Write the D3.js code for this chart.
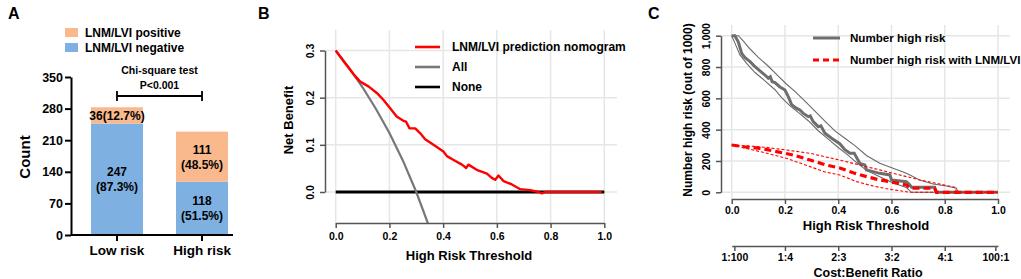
<!DOCTYPE html>
<html>
<head>
<meta charset="utf-8">
<script src="https://cdn.jsdelivr.net/npm/d3@7"></script>
<style>
  body { margin: 0; background: #fff; }
  svg { display: block; font-family: "Liberation Sans", Arial, sans-serif; font-weight: bold; }
</style>
</head>
<body>
<div id="chart"></div>
<script>
// ---- panel A data
const categories = ["Low risk", "High risk"];
const negative = [247, 118];
const positive = [36, 111];
const negPct = ["87.3%", "51.5%"];
const posPct = ["12.7%", "48.5%"];
const countTicks = [0, 70, 140, 210, 280, 350];

// ---- panel B data (threshold, net benefit)
const nomogramNB = [
  [0, 0.3], [0.035, 0.273], [0.066, 0.25], [0.091, 0.234], [0.122, 0.224], [0.153, 0.21],
  [0.178, 0.195], [0.202, 0.178], [0.227, 0.16], [0.252, 0.151], [0.262, 0.149], [0.275, 0.135],
  [0.296, 0.135], [0.314, 0.125], [0.333, 0.112], [0.364, 0.1], [0.401, 0.086], [0.414, 0.076],
  [0.439, 0.068], [0.47, 0.058], [0.486, 0.051], [0.494, 0.058], [0.525, 0.047], [0.563, 0.039],
  [0.581, 0.03], [0.594, 0.026], [0.606, 0.035], [0.625, 0.023], [0.656, 0.016], [0.687, 0.006],
  [0.724, 0.004], [0.755, 0.0], [0.768, -0.003], [0.78, 0.0], [0.99, 0.0]
];
const allNB = [
  [0, 0.3], [0.05, 0.263], [0.1, 0.222], [0.15, 0.176], [0.2, 0.125], [0.25, 0.067],
  [0.3, 0.0], [0.345, -0.069]
];
const noneNB = [[0, 0], [1, 0]];
const nbTicks = [0, 0.1, 0.2, 0.3];
const thrTicks = [0, 0.2, 0.4, 0.6, 0.8, 1.0];

// ---- panel C data (threshold, number high risk out of 1000)
const highRisk = [
  [0, 1000], [0.012, 1000], [0.025, 960], [0.0375, 887], [0.05, 860], [0.069, 834], [0.0875, 802],
  [0.106, 775], [0.125, 749], [0.1375, 728], [0.145, 738], [0.152, 706], [0.1625, 700], [0.18, 674],
  [0.2, 653], [0.2125, 611], [0.225, 560], [0.244, 536], [0.256, 526], [0.269, 504], [0.2875, 483],
  [0.295, 488], [0.306, 451], [0.325, 419], [0.335, 425], [0.35, 377], [0.375, 345], [0.406, 310],
  [0.425, 272], [0.444, 250], [0.46, 250], [0.481, 185], [0.5, 174], [0.506, 143], [0.531, 132],
  [0.556, 121], [0.594, 111], [0.6, 79], [0.656, 68], [0.669, 47], [0.675, 32], [0.762, 32],
  [0.769, 0], [1.0, 0]
];
const highRiskUpper = [
  [0, 1000], [0.025, 1000], [0.044, 965], [0.069, 915], [0.1, 862], [0.1375, 805], [0.175, 742],
  [0.206, 690], [0.2375, 645], [0.275, 582], [0.3125, 518], [0.35, 455], [0.3875, 392], [0.425, 345],
  [0.4625, 298], [0.506, 235], [0.556, 185], [0.606, 153], [0.656, 121], [0.706, 79],
  [0.756, 53], [0.806, 40], [0.844, 26], [0.85, 0], [1.0, 0]
];
const highRiskLower = [
  [0, 1000], [0.0125, 951], [0.031, 877], [0.056, 823], [0.0875, 765], [0.125, 712], [0.1625, 655],
  [0.1875, 605], [0.219, 552], [0.25, 510], [0.2875, 457], [0.325, 393], [0.3625, 340], [0.4, 286],
  [0.4375, 236], [0.469, 190], [0.506, 140], [0.556, 100], [0.606, 60], [0.656, 30], [0.675, 0],
  [1.0, 0]
];
const eventRisk = [
  [0, 302], [0.044, 291], [0.106, 281], [0.169, 260], [0.231, 238], [0.294, 206], [0.356, 174],
  [0.406, 155], [0.456, 125], [0.506, 100], [0.556, 79], [0.594, 68], [0.656, 47], [0.669, 26],
  [0.762, 26], [0.769, 0], [1.0, 0]
];
const eventRiskUpper = [
  [0, 302], [0.106, 291], [0.206, 270], [0.294, 249], [0.381, 215], [0.406, 206], [0.481, 174],
  [0.556, 143], [0.631, 111], [0.706, 79], [0.781, 53], [0.838, 32], [0.844, 0], [1.0, 0]
];
const eventRiskLower = [
  [0, 302], [0.106, 260], [0.206, 217], [0.294, 164], [0.35, 130], [0.406, 111], [0.469, 68],
  [0.531, 40], [0.594, 19], [0.656, 4], [0.669, 0], [1.0, 0]
];
const nTicks = [0, 200, 400, 600, 800, 1000];
const ratioTicks = [0.01, 0.2, 0.4, 0.6, 0.8, 0.99];
const ratioLabels = ["1:100", "1:4", "2:3", "3:2", "4:1", "100:1"];

const width = 1021;
const height = 279;

const svg = d3.select("#chart")
    .append("svg")
    .attr("width", width)
    .attr("height", height);

svg.append("rect").attr("width", width).attr("height", height).attr("fill", "#fff");

const orange = "#f9b98c";
const blue = "#7eb0e2";
const axisGrey = "#555";
const gridGrey = "#e6e6e6";
const fontFam = "Liberation Sans, Arial, sans-serif";

// panel letters
[["A", 8], ["B", 258], ["C", 648]].forEach(([t, x]) => {
    svg.append("text").attr("x", x).attr("y", 19).attr("font-size", 16).text(t);
});

function styleAxis(ax, colour, size) {
    ax.select(".domain").attr("stroke", colour).attr("stroke-width", size === 12.5 ? 2 : 1.5);
    ax.selectAll(".tick line").attr("stroke", colour).attr("stroke-width", size === 12.5 ? 2 : 1.5);
    ax.selectAll(".tick text").attr("font-size", size).attr("font-family", fontFam)
        .attr("font-weight", "bold").attr("fill", "#000");
}

// ================= Panel A =================
const gA = svg.append("g");
const yA = d3.scaleLinear().domain([0, 350]).range([235, 77]);
const xA = d3.scaleBand().domain(categories).range([71, 248])
    .paddingInner(0.388).paddingOuter(0.235);

// legend
[[orange, "LNM/LVI positive", 28], [blue, "LNM/LVI negative", 43]].forEach(([c, t, y]) => {
    gA.append("rect").attr("x", 65).attr("y", y).attr("width", 13).attr("height", 9).attr("fill", c);
    gA.append("text").attr("x", 85).attr("y", y + 8.5).attr("font-size", 12).text(t);
});

// bars
gA.selectAll(".neg").data(categories).enter().append("rect")
    .attr("x", d => xA(d)).attr("width", xA.bandwidth())
    .attr("y", (d, i) => yA(negative[i]))
    .attr("height", (d, i) => yA(0) - yA(negative[i]))
    .attr("fill", blue);
gA.selectAll(".pos").data(categories).enter().append("rect")
    .attr("x", d => xA(d)).attr("width", xA.bandwidth())
    .attr("y", (d, i) => yA(negative[i] + positive[i]))
    .attr("height", (d, i) => yA(negative[i]) - yA(negative[i] + positive[i]))
    .attr("fill", orange);

// bar labels
categories.forEach((c, i) => {
    const cx = xA(c) + xA.bandwidth() / 2;
    const negMid = yA(negative[i] / 2);
    gA.append("text").attr("x", cx).attr("y", negMid - 3).attr("text-anchor", "middle")
        .attr("font-size", 12).text(negative[i]);
    gA.append("text").attr("x", cx).attr("y", negMid + 12).attr("text-anchor", "middle")
        .attr("font-size", 12).text(`(${negPct[i]})`);
    const posMid = yA(negative[i] + positive[i] / 2);
    if (positive[i] < 60) {
        gA.append("text").attr("x", cx).attr("y", posMid + 4.5).attr("text-anchor", "middle")
            .attr("font-size", 12).text(`${positive[i]}(${posPct[i]})`);
    } else {
        gA.append("text").attr("x", cx).attr("y", posMid - 3).attr("text-anchor", "middle")
            .attr("font-size", 12).text(positive[i]);
        gA.append("text").attr("x", cx).attr("y", posMid + 12).attr("text-anchor", "middle")
            .attr("font-size", 12).text(`(${posPct[i]})`);
    }
});

// axes
const axA = gA.append("g").attr("transform", "translate(71,0)")
    .call(d3.axisLeft(yA).tickValues(countTicks).tickSize(6).tickSizeOuter(0));
styleAxis(axA, "#000", 12.5);
axA.selectAll(".tick text").attr("x", -8);

const axAx = gA.append("g").attr("transform", "translate(0,235)")
    .call(d3.axisBottom(xA).tickSize(6).tickSizeOuter(0));
styleAxis(axAx, "#000", 12.5);
axAx.select(".domain").attr("d", "M71,0H233");
axAx.selectAll(".tick text").attr("font-size", 13.5).attr("y", 10);

gA.append("text").attr("transform", "translate(30,157) rotate(-90)")
    .attr("text-anchor", "middle").attr("font-size", 15).text("Count");

// chi-square bracket
const x0 = xA(categories[0]) + xA.bandwidth() / 2;
const x1 = xA(categories[1]) + xA.bandwidth() / 2;
gA.append("path").attr("d", `M${x0},91V101M${x0},96H${x1}M${x1},91V101`)
    .attr("stroke", "#000").attr("stroke-width", 1.8).attr("fill", "none");
gA.append("text").attr("x", (x0 + x1) / 2).attr("y", 74).attr("text-anchor", "middle")
    .attr("font-size", 10.5).text("Chi-square test");
gA.append("text").attr("x", (x0 + x1) / 2).attr("y", 89).attr("text-anchor", "middle")
    .attr("font-size", 10.5).text("P<0.001");

// ================= Panel B =================
const gB = svg.append("g");
const xB = d3.scaleLinear().domain([0, 1]).range([335.7, 604.3]);
const yB = d3.scaleLinear().domain([0, 0.3]).range([192, 50.5]);
const plotB = { left: 325, right: 617, top: 30, bottom: 223 };

gB.append("clipPath").attr("id", "clipB").append("rect")
    .attr("x", plotB.left).attr("y", plotB.top)
    .attr("width", plotB.right - plotB.left).attr("height", plotB.bottom - plotB.top);

gB.selectAll(".vg").data(thrTicks).enter().append("line")
    .attr("x1", d => xB(d)).attr("x2", d => xB(d)).attr("y1", plotB.top).attr("y2", plotB.bottom)
    .attr("stroke", gridGrey).attr("stroke-width", 1.5);
gB.selectAll(".hg").data(nbTicks).enter().append("line")
    .attr("x1", plotB.left).attr("x2", plotB.right).attr("y1", d => yB(d)).attr("y2", d => yB(d))
    .attr("stroke", gridGrey).attr("stroke-width", 1.5);

const lineB = d3.line().x(d => xB(d[0])).y(d => yB(d[1]));
const curvesB = gB.append("g").attr("clip-path", "url(#clipB)");
curvesB.append("path").datum(noneNB).attr("d", lineB).attr("fill", "none")
    .attr("stroke", "#000").attr("stroke-width", 2.8);
curvesB.append("path").datum(allNB).attr("d", lineB).attr("fill", "none")
    .attr("stroke", "#777").attr("stroke-width", 2.2);
curvesB.append("path").datum(nomogramNB).attr("d", lineB).attr("fill", "none")
    .attr("stroke", "#f00").attr("stroke-width", 2.4).attr("stroke-linejoin", "round");

// B axes
const axBy = gB.append("g").attr("transform", `translate(${plotB.left},0)`)
    .call(d3.axisLeft(yB).tickValues(nbTicks).tickFormat(d3.format(".1f")).tickSize(5).tickSizeOuter(0));
styleAxis(axBy, axisGrey, 10.5);
axBy.selectAll(".tick text")
    .attr("x", null).attr("dy", null).attr("text-anchor", "middle")
    .attr("transform", "translate(-11,0) rotate(-90)");

const axBx = gB.append("g").attr("transform", `translate(0,${plotB.bottom})`)
    .call(d3.axisBottom(xB).tickValues(thrTicks).tickFormat(d3.format(".1f")).tickSize(5).tickSizeOuter(0));
styleAxis(axBx, axisGrey, 10.5);
axBx.selectAll(".tick text").attr("y", 10);

gB.append("text").attr("x", 469).attr("y", 260).attr("text-anchor", "middle")
    .attr("font-size", 13).text("High Risk Threshold");
gB.append("text").attr("transform", "translate(293,120) rotate(-90)")
    .attr("text-anchor", "middle").attr("font-size", 13).text("Net Benefit");

// B legend
[["#f00", "LNM/LVI prediction nomogram", 47], ["#777", "All", 67], ["#000", "None", 87]].forEach(([c, t, y]) => {
    gB.append("line").attr("x1", 415).attr("x2", 440).attr("y1", y).attr("y2", y)
        .attr("stroke", c).attr("stroke-width", 2.6);
    gB.append("text").attr("x", 452).attr("y", y + 4).attr("font-size", 12).text(t);
});

// ================= Panel C =================
const gC = svg.append("g");
const xC = d3.scaleLinear().domain([0, 1]).range([731.7, 998]);
const yC = d3.scaleLinear().domain([0, 1000]).range([192.3, 35.7]);
const plotC = { left: 721, right: 1010, top: 25, bottom: 199 };

gC.selectAll(".vg").data(thrTicks).enter().append("line")
    .attr("x1", d => xC(d)).attr("x2", d => xC(d)).attr("y1", plotC.top).attr("y2", plotC.bottom)
    .attr("stroke", gridGrey).attr("stroke-width", 1.5);
gC.selectAll(".hg").data(nTicks).enter().append("line")
    .attr("x1", plotC.left).attr("x2", plotC.right).attr("y1", d => yC(d)).attr("y2", d => yC(d))
    .attr("stroke", gridGrey).attr("stroke-width", 1.5);

const lineC = d3.line().x(d => xC(d[0])).y(d => yC(d[1]));
[highRiskUpper, highRiskLower].forEach(s => {
    gC.append("path").datum(s).attr("d", lineC).attr("fill", "none")
        .attr("stroke", "#6a6a6a").attr("stroke-width", 1.1);
});
gC.append("path").datum(highRisk).attr("d", lineC).attr("fill", "none")
    .attr("stroke", "#6e6e6e").attr("stroke-width", 3);
[eventRiskUpper, eventRiskLower].forEach(s => {
    gC.append("path").datum(s).attr("d", lineC).attr("fill", "none")
        .attr("stroke", "#f00").attr("stroke-width", 1.1).attr("stroke-dasharray", "3,2");
});
gC.append("path").datum(eventRisk).attr("d", lineC).attr("fill", "none")
    .attr("stroke", "#f00").attr("stroke-width", 3.2).attr("stroke-dasharray", "7,4");

// C axes
const axCy = gC.append("g").attr("transform", `translate(${plotC.left},0)`)
    .call(d3.axisLeft(yC).tickValues(nTicks).tickSize(5).tickSizeOuter(0));
styleAxis(axCy, axisGrey, 10.5);
axCy.selectAll(".tick text")
    .attr("x", null).attr("dy", null).attr("text-anchor", "middle")
    .attr("transform", "translate(-11,0) rotate(-90)");

const axCx = gC.append("g").attr("transform", `translate(0,${plotC.bottom})`)
    .call(d3.axisBottom(xC).tickValues(thrTicks).tickFormat(d3.format(".1f")).tickSize(5).tickSizeOuter(0));
styleAxis(axCx, axisGrey, 10.5);
axCx.selectAll(".tick text").attr("y", 8);

const axCr = gC.append("g").attr("transform", "translate(0,246)")
    .call(d3.axisBottom(xC).tickValues(ratioTicks).tickFormat((d, i) => ratioLabels[i]).tickSize(5).tickSizeOuter(0));
styleAxis(axCr, axisGrey, 10.5);
axCr.selectAll(".tick text").attr("y", 8);

gC.append("text").attr("x", 866).attr("y", 230).attr("text-anchor", "middle")
    .attr("font-size", 13).text("High Risk Threshold");
gC.append("text").attr("x", 868).attr("y", 277).attr("text-anchor", "middle")
    .attr("font-size", 12.5).text("Cost:Benefit Ratio");
gC.append("text").attr("transform", "translate(692,110) rotate(-90)")
    .attr("text-anchor", "middle").attr("font-size", 12).text("Number high risk (out of 1000)");

// C legend
gC.append("line").attr("x1", 813).attr("x2", 840).attr("y1", 38).attr("y2", 38)
    .attr("stroke", "#6e6e6e").attr("stroke-width", 3);
gC.append("text").attr("x", 850).attr("y", 42).attr("font-size", 11.6).text("Number high risk");
gC.append("line").attr("x1", 813).attr("x2", 840).attr("y1", 60).attr("y2", 60)
    .attr("stroke", "#f00").attr("stroke-width", 3.2).attr("stroke-dasharray", "6,4");
gC.append("text").attr("x", 850).attr("y", 64).attr("font-size", 11.6).text("Number high risk with LNM/LVI");
</script>
</body>
</html>
